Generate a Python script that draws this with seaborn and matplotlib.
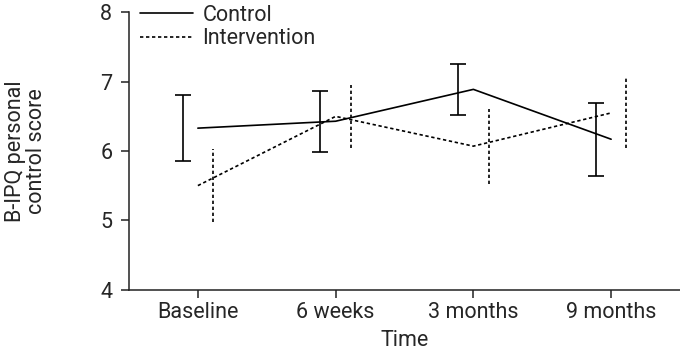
import numpy as np
import pandas as pd
import matplotlib.pyplot as plt
import seaborn as sns

# datos
momentos = ["Baseline", "6 weeks", "3 months", "9 months"]
control_media = [6.33, 6.43, 6.89, 6.17]
control_error = [0.48, 0.44, 0.37, 0.53]
interv_media = [5.50, 6.50, 6.07, 6.55]
interv_error = [0.53, 0.45, 0.54, 0.50]

sns.set_theme(style="ticks")
plt.rcParams['font.family'] = ['Roboto', 'DejaVu Sans']

pos = np.arange(len(momentos))
df = pd.DataFrame({
    "pos": np.concatenate([pos, pos]),
    "score": control_media + interv_media,
    "grupo": ["Control"] * 4 + ["Intervention"] * 4,
})

fig = plt.figure(figsize=(6.8, 3.55), dpi=100)
ax = fig.add_axes([0.1897, 0.1845, 0.8103, 0.7803])

ax = sns.lineplot(data=df, x="pos", y="score", style="grupo",
                  dashes={"Control": "", "Intervention": (2, 1.6)},
                  color="black", linewidth=1.2, ax=ax)

# barras de error desplazadas a cada lado
off = 0.11
ax.errorbar(pos - off, control_media, yerr=control_error, fmt="none",
            ecolor="black", elinewidth=1.2, capsize=6, capthick=1.2)
eb = ax.errorbar(pos + off, interv_media, yerr=interv_error, fmt="none",
                 ecolor="black", elinewidth=1.2, capsize=0)
eb[2][0].set_linestyle((0, (2, 1.6)))

ax.set_xlim(-0.5, 3.5)
ax.set_ylim(4, 8)
ax.set_yticks([4, 5, 6, 7, 8])
ax.set_xticks(pos)
ax.set_xticklabels(momentos)
ax.tick_params(labelsize=15.5, length=6, width=1.1, color="#222222")
ax.tick_params(axis="y", pad=6)
ax.tick_params(axis="x", pad=3)
for s in ["left", "bottom"]:
    ax.spines[s].set_linewidth(1.1)
    ax.spines[s].set_color("#222222")
sns.despine(ax=ax)

ax.set_xlabel("Time", fontsize=15.5, labelpad=5)
ax.set_ylabel("B-IPQ personal\ncontrol score", fontsize=15.5, labelpad=38,
              linespacing=1.05, multialignment="center")

ax.legend(loc="upper left", bbox_to_anchor=(0.0, 1.067), frameon=False,
          fontsize=15.5, handlelength=2.45, handletextpad=0.47,
          borderpad=0, labelspacing=0.12)

fig.savefig("out.png", dpi=100)
